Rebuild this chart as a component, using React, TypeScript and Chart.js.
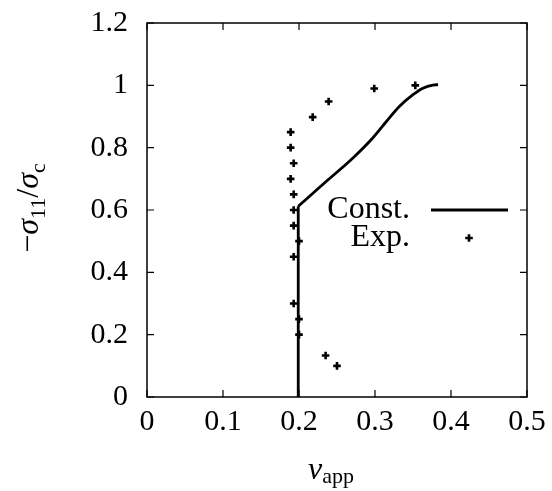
import React, { useEffect, useRef } from 'react';
import { Chart, registerables } from 'chart.js';

Chart.register(...registerables);

// Experimental points (nu_app, -sigma11/sigma_c)
const expX = [0.189, 0.189, 0.193, 0.189, 0.193, 0.193, 0.193, 0.2, 0.193, 0.193, 0.2, 0.2, 0.235, 0.25, 0.218, 0.239, 0.299, 0.353];
const expY = [0.85, 0.8, 0.75, 0.7, 0.65, 0.6, 0.55, 0.5, 0.45, 0.3, 0.25, 0.2, 0.133, 0.1, 0.898, 0.948, 0.99, 1.0];

// Constitutive model curve
const constVertX = [0.199, 0.199];
const constVertY = [0, 0.612];
const constCurveX = [0.199, 0.236, 0.271, 0.297, 0.315, 0.332, 0.35, 0.363, 0.376, 0.383];
const constCurveY = [0.612, 0.692, 0.767, 0.831, 0.884, 0.932, 0.97, 0.991, 1.001, 1.002];

const xTicks = [0, 0.1, 0.2, 0.3, 0.4, 0.5];
const yTicks = [0, 0.2, 0.4, 0.6, 0.8, 1, 1.2];

const legendLabels = ['Const.', 'Exp.'];

const SERIF = '"Liberation Serif", "Times New Roman", serif';

type Run = { text: string; font: string; dy: number };

function drawRuns(ctx: CanvasRenderingContext2D, runs: Run[], cx: number, baseline: number) {
  let total = 0;
  const widths = runs.map((r) => {
    ctx.font = r.font;
    const w = ctx.measureText(r.text).width;
    total += w;
    return w;
  });
  let x = cx - total / 2;
  ctx.textAlign = 'left';
  ctx.textBaseline = 'alphabetic';
  runs.forEach((r, i) => {
    ctx.font = r.font;
    ctx.fillText(r.text, x, baseline + r.dy);
    x += widths[i];
  });
}

const framePlugin = {
  id: 'gnuplotFrame',
  afterDatasetsDraw(chart: any) {
    const { ctx, chartArea: a, scales } = chart;
    ctx.save();
    ctx.strokeStyle = '#000';
    ctx.fillStyle = '#000';
    ctx.lineWidth = 1.5;
    ctx.strokeRect(a.left, a.top, a.right - a.left, a.bottom - a.top);

    // inward ticks on all sides
    const tl = 7;
    ctx.lineWidth = 1.2;
    ctx.beginPath();
    scales.x.ticks.forEach((t: any) => {
      const px = scales.x.getPixelForValue(t.value);
      ctx.moveTo(px, a.bottom);
      ctx.lineTo(px, a.bottom - tl);
      ctx.moveTo(px, a.top);
      ctx.lineTo(px, a.top + tl);
    });
    scales.y.ticks.forEach((t: any) => {
      const py = scales.y.getPixelForValue(t.value);
      ctx.moveTo(a.left, py);
      ctx.lineTo(a.left + tl, py);
      ctx.moveTo(a.right, py);
      ctx.lineTo(a.right - tl, py);
    });
    ctx.stroke();

    // legend (gnuplot style, inside plot)
    const textRight = a.right - 117;
    const row1 = a.top + 187;
    const row2 = a.top + 215;
    ctx.font = `32px ${SERIF}`;
    ctx.textAlign = 'right';
    ctx.textBaseline = 'middle';
    ctx.fillText(legendLabels[0], textRight, row1);
    ctx.fillText(legendLabels[1], textRight, row2);
    ctx.lineWidth = 2.8;
    ctx.beginPath();
    ctx.moveTo(a.right - 96, row1);
    ctx.lineTo(a.right - 19, row1);
    ctx.stroke();
    const cx = a.right - 58;
    const r = 3.8;
    ctx.lineWidth = 2.6;
    ctx.beginPath();
    ctx.moveTo(cx - r, row2);
    ctx.lineTo(cx + r, row2);
    ctx.moveTo(cx, row2 - r);
    ctx.lineTo(cx, row2 + r);
    ctx.stroke();

    // x axis title
    const xc = (a.left + a.right) / 2 - 6;
    drawRuns(
      ctx,
      [
        { text: 'ν', font: `italic 32px ${SERIF}`, dy: 0 },
        { text: 'app', font: `22px ${SERIF}`, dy: 4 },
      ],
      xc,
      a.bottom + 82
    );

    // y axis title (rotated)
    ctx.save();
    ctx.translate(38, (a.top + a.bottom) / 2 - 2);
    ctx.rotate(-Math.PI / 2);
    drawRuns(
      ctx,
      [
        { text: '−', font: `32px ${SERIF}`, dy: 0 },
        { text: 'σ', font: `italic 32px ${SERIF}`, dy: 0 },
        { text: '11', font: `22px ${SERIF}`, dy: 7 },
        { text: '/', font: `32px ${SERIF}`, dy: 0 },
        { text: 'σ', font: `italic 32px ${SERIF}`, dy: 0 },
        { text: 'c', font: `22px ${SERIF}`, dy: 7 },
      ],
      0,
      0
    );
    ctx.restore();

    ctx.restore();
  },
};

export default function App() {
  const ref = useRef<HTMLCanvasElement | null>(null);

  useEffect(() => {
    if (!ref.current) return;
    const expData = expX.map((x, i) => ({ x, y: expY[i] }));
    const vertData = constVertX.map((x, i) => ({ x, y: constVertY[i] }));
    const curveData = constCurveX.map((x, i) => ({ x, y: constCurveY[i] }));

    const chart = new Chart(ref.current, {
      type: 'scatter',
      data: {
        datasets: [
          {
            label: 'Const.',
            data: vertData,
            showLine: true,
            borderColor: '#000',
            borderWidth: 2.8,
            pointRadius: 0,
            fill: false,
          },
          {
            label: 'Const.',
            data: curveData,
            showLine: true,
            borderColor: '#000',
            borderWidth: 2.8,
            pointRadius: 0,
            fill: false,
            cubicInterpolationMode: 'monotone',
          },
          {
            label: 'Exp.',
            data: expData,
            showLine: false,
            pointStyle: 'cross',
            pointRadius: 3.8,
            borderColor: '#000',
            borderWidth: 2.6,
            backgroundColor: '#000',
          },
        ],
      },
      options: {
        responsive: false,
        animation: false,
        layout: { padding: { top: 23, right: 25, left: 0, bottom: 0 } },
        plugins: {
          legend: { display: false },
          tooltip: { enabled: false },
        },
        scales: {
          x: {
            type: 'linear',
            min: 0,
            max: 0.5,
            afterBuildTicks: (scale: any) => {
              scale.ticks = xTicks.map((v) => ({ value: v }));
            },
            afterFit: (scale: any) => {
              scale.height = 94;
              scale.paddingLeft = 0;
              scale.paddingRight = 0;
            },
            grid: { display: false, drawTicks: false },
            border: { display: false },
            ticks: {
              padding: 7,
              color: '#000',
              font: { family: SERIF, size: 30 },
              maxRotation: 0,
              callback: (v: any) => String(Math.round(Number(v) * 10) / 10),
            },
          },
          y: {
            type: 'linear',
            min: 0,
            max: 1.2,
            afterBuildTicks: (scale: any) => {
              scale.ticks = yTicks.map((v) => ({ value: v }));
            },
            afterFit: (scale: any) => {
              scale.width = 147;
              scale.paddingTop = 0;
              scale.paddingBottom = 0;
            },
            grid: { display: false, drawTicks: false },
            border: { display: false },
            ticks: {
              padding: 19,
              color: '#000',
              font: { family: SERIF, size: 30 },
              callback: (v: any) => String(Math.round(Number(v) * 10) / 10),
            },
          },
        },
      },
      plugins: [framePlugin],
    });
    return () => chart.destroy();
  }, []);

  return (
    <div style={{ position: 'fixed', left: 0, top: 0, width: 552, height: 491, background: '#fff' }}>
      <canvas ref={ref} width={552} height={491} />
    </div>
  );
}
